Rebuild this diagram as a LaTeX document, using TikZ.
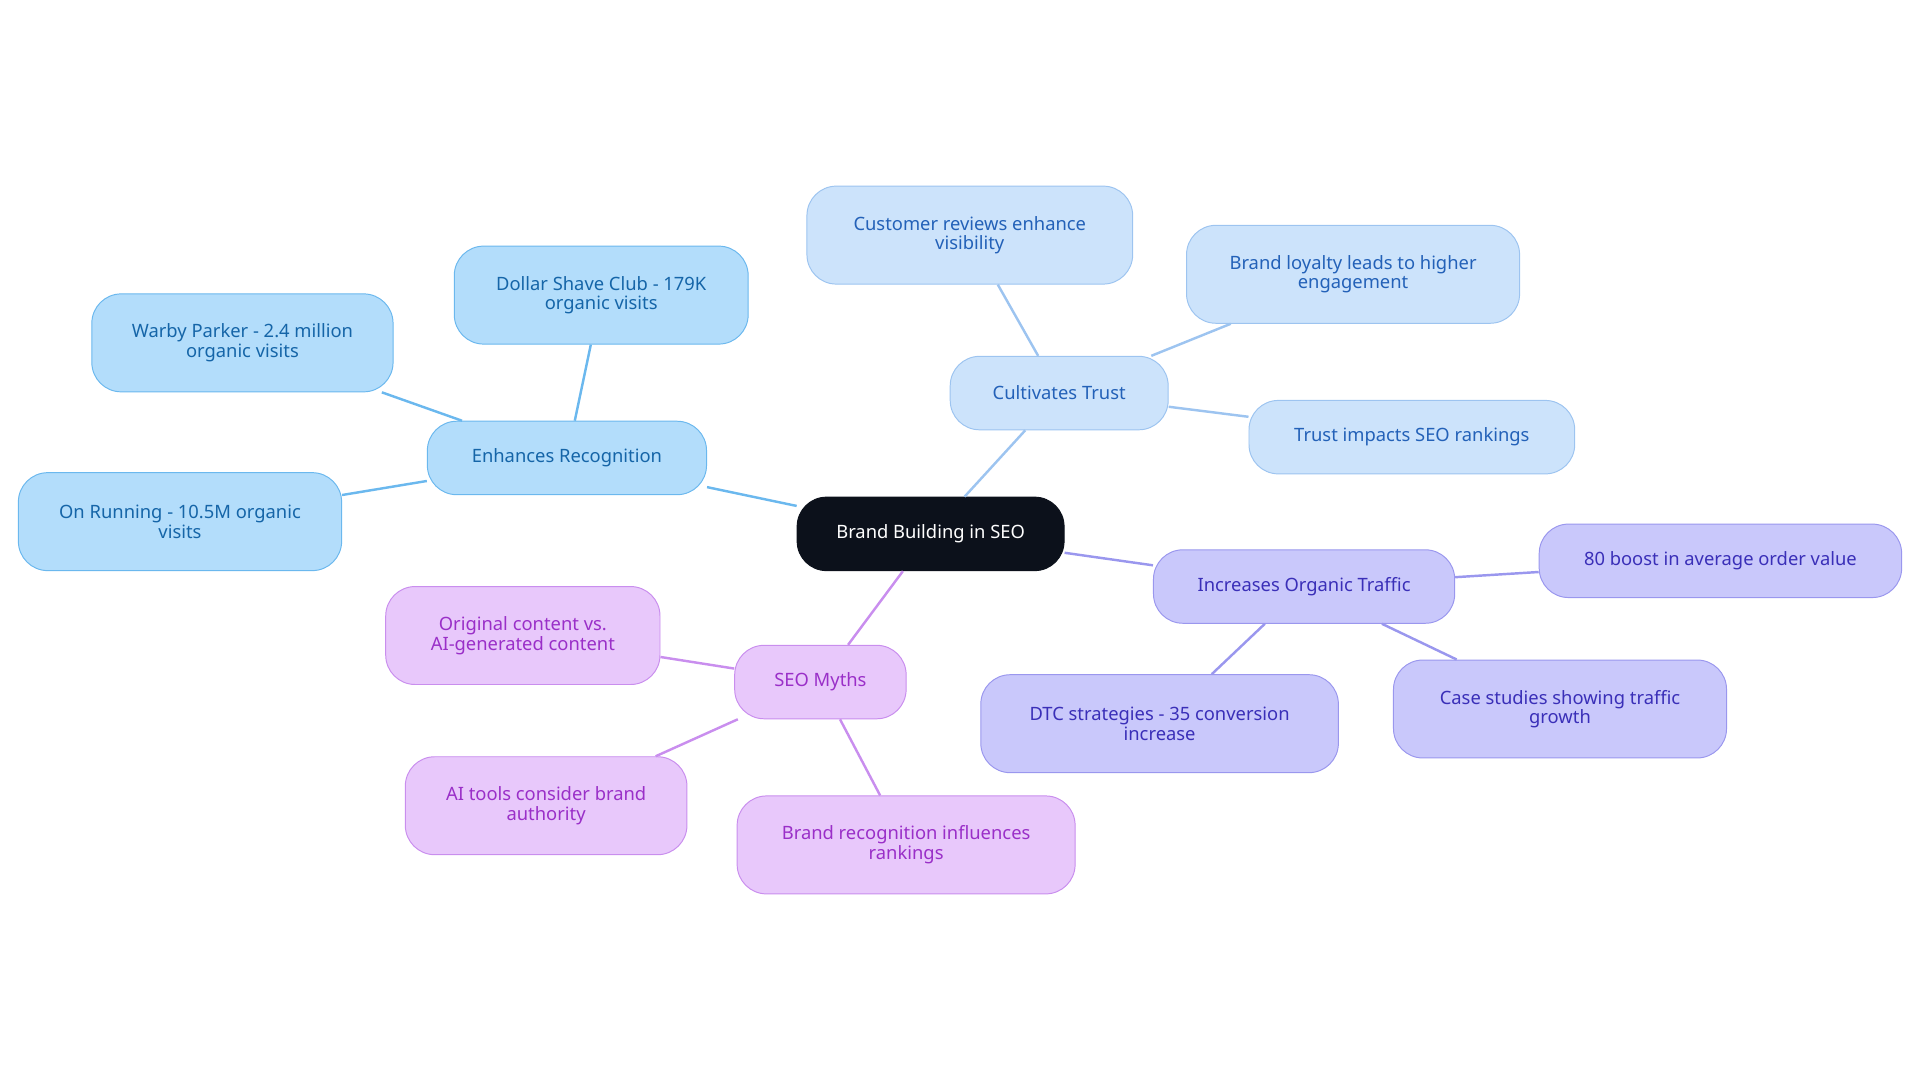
\documentclass[tikz,border=0pt]{standalone}
\usepackage{fontspec}
\setmainfont{Noto Sans}
\definecolor{bF}{HTML}{B3DDFB}\definecolor{bD}{HTML}{6BB8EE}\definecolor{bT}{HTML}{1565A8}
\definecolor{tF}{HTML}{CCE3FB}\definecolor{tD}{HTML}{9DC4F0}\definecolor{tT}{HTML}{2361B8}
\definecolor{pF}{HTML}{C9C8FB}\definecolor{pD}{HTML}{9A97EE}\definecolor{pT}{HTML}{3A2FB8}
\definecolor{mF}{HTML}{E8C8FB}\definecolor{mD}{HTML}{C98EEE}\definecolor{mT}{HTML}{9A2FC8}
\definecolor{cF}{HTML}{0C111B}
\begin{document}
\begin{tikzpicture}[x=1pt,y=-1pt,
 box/.style={draw,rounded corners=24pt,align=center,inner sep=0pt,font=\fontsize{15}{16}\selectfont,line width=0.8pt},
 B/.style={box,fill=bF,draw=bD,text=bT},
 T/.style={box,fill=tF,draw=tD,text=tT},
 P/.style={box,fill=pF,draw=pD,text=pT},
 M/.style={box,fill=mF,draw=mD,text=mT},
 eb/.style={draw=bD,line width=2pt},
 et/.style={draw=tD,line width=2pt},
 ep/.style={draw=pD,line width=2pt},
 em/.style={draw=mD,line width=2pt}]
\useasboundingbox (0,0) rectangle (1568,884);
\node[box,fill=cF,draw=cF,text=white,minimum width=218pt,minimum height=60pt] (c) at (760,436) {Brand Building in SEO};
\node[B,minimum width=228pt,minimum height=60pt] (er) at (463,374) {Enhances Recognition};
\node[B,minimum width=240pt,minimum height=80pt] (ds) at (491,241) {Dollar Shave Club - 179K\\organic visits};
\node[B,minimum width=246pt,minimum height=80pt] (wp) at (198,280) {Warby Parker - 2.4 million\\organic visits};
\node[B,minimum width=264pt,minimum height=80pt] (or) at (147,426) {On Running - 10.5M organic\\visits};
\node[T,minimum width=178pt,minimum height=60pt] (ct) at (865,321) {Cultivates Trust};
\node[T,minimum width=266pt,minimum height=80pt] (cr) at (792,192) {Customer reviews enhance\\visibility};
\node[T,minimum width=272pt,minimum height=80pt] (bl) at (1105,224) {Brand loyalty leads to higher\\engagement};
\node[T,minimum width=266pt,minimum height=60pt] (ti) at (1153,357) {Trust impacts SEO rankings};
\node[P,minimum width=246pt,minimum height=60pt] (io) at (1065,479) {Increases Organic Traffic};
\node[P,minimum width=296pt,minimum height=60pt] (eb) at (1405,458) {80 boost in average order value};
\node[P,minimum width=292pt,minimum height=80pt] (dtc) at (947,591) {DTC strategies - 35 conversion\\increase};
\node[P,minimum width=272pt,minimum height=80pt] (cs) at (1274,579) {Case studies showing traffic\\growth};
\node[M,minimum width=140pt,minimum height=60pt] (sm) at (670,557) {SEO Myths};
\node[M,minimum width=224pt,minimum height=80pt] (oc) at (427,519) {Original content vs.\\AI-generated content};
\node[M,minimum width=230pt,minimum height=80pt] (ai) at (446,658) {AI tools consider brand\\authority};
\node[M,minimum width=276pt,minimum height=80pt] (br) at (740,690) {Brand recognition influences\\rankings};
\begin{scope}[on background layer/.style={}]
\end{scope}
\path[eb] (c) -- (er); \path[eb] (er) -- (ds); \path[eb] (er) -- (wp); \path[eb] (er) -- (or);
\path[et] (c) -- (ct); \path[et] (ct) -- (cr); \path[et] (ct) -- (bl); \path[et] (ct) -- (ti);
\path[ep] (c) -- (io); \path[ep] (io) -- (eb); \path[ep] (io) -- (dtc); \path[ep] (io) -- (cs);
\path[em] (c) -- (sm); \path[em] (sm) -- (oc); \path[em] (sm) -- (ai); \path[em] (sm) -- (br);
\end{tikzpicture}
\end{document}
